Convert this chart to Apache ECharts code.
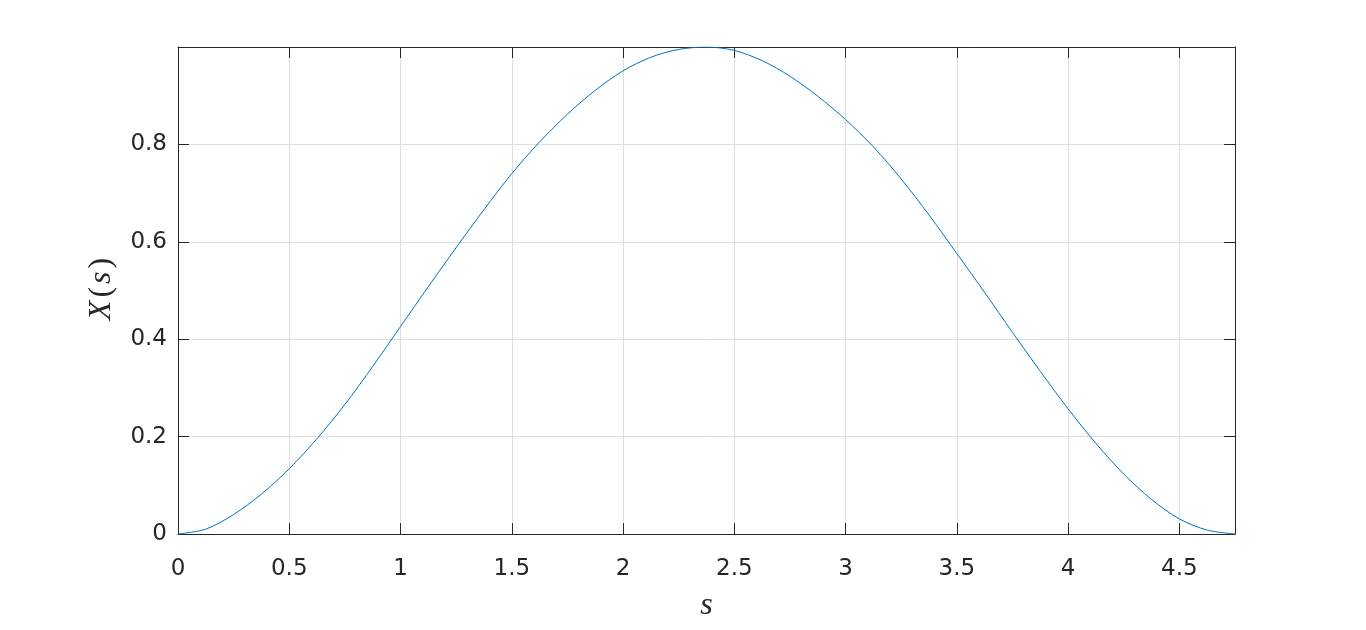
<!DOCTYPE html>
<html>
<head>
<meta charset="utf-8">
<script src="https://cdn.jsdelivr.net/npm/echarts@6/dist/echarts.min.js"></script>
<style>html,body{margin:0;padding:0;background:#fff;}#c{width:1366px;height:630px;}</style>
</head>
<body>
<div id="c"></div>
<script>
const sValues = [0, 0.125, 0.25, 0.375, 0.5, 0.625, 0.75, 0.875, 1.0, 1.125, 1.25, 1.375, 1.5, 1.625, 1.75, 1.875, 2.0, 2.125, 2.25, 2.375, 2.5, 2.625, 2.75, 2.875, 3.0, 3.125, 3.25, 3.375, 3.5, 3.625, 3.75, 3.875, 4.0, 4.125, 4.25, 4.375, 4.5, 4.625, 4.75];
const xValues = [0, 0.010, 0.040, 0.082, 0.134, 0.196, 0.266, 0.344, 0.426, 0.508, 0.588, 0.666, 0.740, 0.805, 0.862, 0.911, 0.951, 0.979, 0.995, 1.0, 0.993, 0.972, 0.940, 0.899, 0.851, 0.795, 0.729, 0.655, 0.576, 0.496, 0.414, 0.334, 0.257, 0.186, 0.123, 0.071, 0.031, 0.008, 0];
const xTickLabels = ['0', '0.5', '1', '1.5', '2', '2.5', '3', '3.5', '4', '4.5'];
const yTickLabels = ['0', '0.2', '0.4', '0.6', '0.8'];

const data = sValues.map((s, i) => [s, xValues[i]]);
const axisColor = '#262626';
const labelFont = { fontFamily: 'DejaVu Sans', fontSize: 23, color: axisColor };

const chart = echarts.init(document.getElementById('c'), null, { renderer: 'canvas' });
chart.setOption({
  animation: false,
  grid: { left: 178, top: 47, right: 131, bottom: 96, containLabel: false },
  xAxis: [{
    type: 'value', min: 0, max: 4.75, interval: 0.5,
    name: 's', nameLocation: 'middle', nameGap: 56,
    nameTextStyle: { fontFamily: 'Liberation Serif', fontStyle: 'italic', fontSize: 32, color: axisColor },
    axisLine: { show: true, onZero: false, lineStyle: { color: axisColor, width: 1 } },
    axisTick: { show: true, inside: true, length: 11, lineStyle: { color: axisColor } },
    axisLabel: Object.assign({ margin: 24, showMaxLabel: false,
      formatter: v => { const i = Math.round(v / 0.5); return (Math.abs(v - i * 0.5) < 1e-9 && i < xTickLabels.length) ? xTickLabels[i] : ''; } }, labelFont),
    splitLine: { show: true, lineStyle: { color: '#dedede', width: 1 } }
  }, {
    type: 'value', min: 0, max: 4.75, interval: 0.5, position: 'top',
    axisLine: { show: true, onZero: false, lineStyle: { color: axisColor, width: 1 } },
    axisTick: { show: true, inside: true, length: 11, lineStyle: { color: axisColor } },
    axisLabel: { show: false }, splitLine: { show: false }
  }],
  yAxis: [{
    type: 'value', min: 0, max: 1, interval: 0.2,
    name: '{i|X}{n|(}{i|s}{n|)}', nameLocation: 'middle', nameGap: 60, nameRotate: 90,
    nameTextStyle: { rich: {
      i: { fontFamily: 'Liberation Serif', fontStyle: 'italic', fontSize: 32, color: axisColor, padding: [0, 3, 0, 3] },
      n: { fontFamily: 'Liberation Serif', fontSize: 32, color: axisColor }
    } },
    axisLine: { show: true, onZero: false, lineStyle: { color: axisColor, width: 1 } },
    axisTick: { show: true, inside: true, length: 11, lineStyle: { color: axisColor } },
    axisLabel: Object.assign({ margin: 11, showMaxLabel: false,
      formatter: v => { const i = Math.round(v / 0.2); return (Math.abs(v - i * 0.2) < 1e-9 && i < yTickLabels.length) ? yTickLabels[i] : ''; } }, labelFont),
    splitLine: { show: true, lineStyle: { color: '#dedede', width: 1 } }
  }, {
    type: 'value', min: 0, max: 1, interval: 0.2, position: 'right',
    axisLine: { show: true, onZero: false, lineStyle: { color: axisColor, width: 1 } },
    axisTick: { show: true, inside: true, length: 11, lineStyle: { color: axisColor } },
    axisLabel: { show: false }, splitLine: { show: false }
  }],
  series: [{
    type: 'line', data: data, xAxisIndex: 0, yAxisIndex: 0,
    smooth: 0.3, showSymbol: false, symbol: 'none',
    lineStyle: { color: '#0072BD', width: 1 }
  }]
});
</script>
</body>
</html>
